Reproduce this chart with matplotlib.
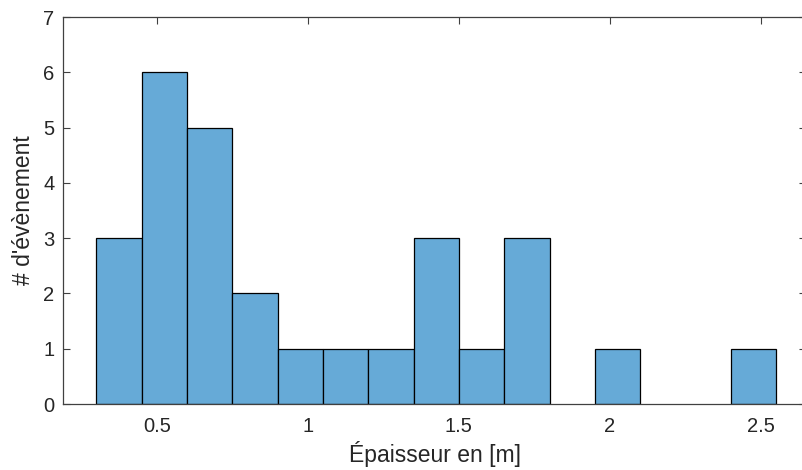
import matplotlib
matplotlib.use("Agg")
import matplotlib.pyplot as plt
import numpy as np

# histogram bins (edges in m) and counts
bin_edges = [0.30, 0.45, 0.60, 0.75, 0.90, 1.05, 1.20, 1.35, 1.50, 1.65, 1.80, 1.95, 2.10, 2.25, 2.40, 2.55]
counts = [3, 6, 5, 2, 1, 1, 1, 3, 1, 3, 0, 1, 0, 0, 1]
x_ticks = [0.5, 1, 1.5, 2, 2.5]
x_tick_labels = ["0.5", "1", "1.5", "2", "2.5"]
y_ticks = [0, 1, 2, 3, 4, 5, 6, 7]

plt.rcParams['font.family'] = ['Liberation Sans', 'DejaVu Sans']

fig = plt.figure(figsize=(8.02, 4.70), dpi=100)
ax = fig.add_axes([0.0782, 0.1404, 0.9273, 0.8234])

edges = np.array(bin_edges)
widths = np.diff(edges)
for left, w, c in zip(edges[:-1], widths, counts):
    if c > 0:
        ax.bar(left, c, width=w, align='edge', color='#66aad7',
               edgecolor='black', linewidth=0.9, zorder=2)

ax.set_xlim(0.189, 2.65)
ax.set_ylim(0, 7)
ax.set_xticks(x_ticks)
ax.set_xticklabels(x_tick_labels)
ax.set_yticks(y_ticks)

axcol = '#404040'
for s in ax.spines.values():
    s.set_color(axcol)
    s.set_linewidth(0.9)
    s.set_zorder(3)
ax.tick_params(direction='in', length=5, width=0.8, color=axcol,
               labelcolor='#262626', labelsize=14.5, top=True, right=True)
ax.tick_params(axis='x', pad=9)
ax.tick_params(axis='y', pad=6)

ax.set_xlabel('Épaisseur en [m]', fontsize=16.5, color='#262626', labelpad=4)
ax.set_ylabel("# d'évènement", fontsize=16.5, color='#262626', labelpad=6)

fig.savefig('out.png', dpi=100)
